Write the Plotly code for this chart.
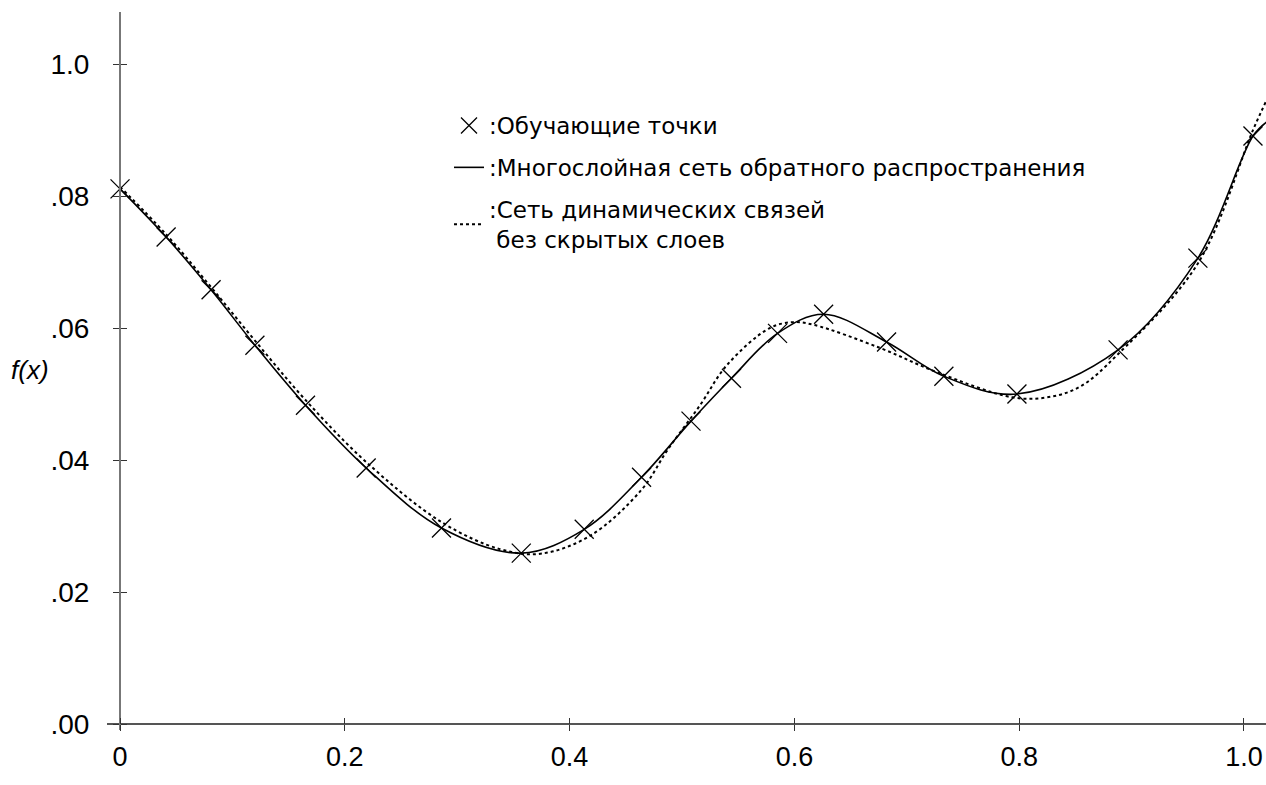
import plotly.graph_objects as go

# Training points
train_x = [0.0, 0.041, 0.081, 0.120, 0.165, 0.219, 0.286, 0.357, 0.413, 0.464,
           0.508, 0.544, 0.585, 0.626, 0.682, 0.733, 0.798, 0.888, 0.959, 1.008]
train_y = [0.0811, 0.0738, 0.0658, 0.0574, 0.0483, 0.0388, 0.0297, 0.0259, 0.0295, 0.0374,
           0.0459, 0.0524, 0.0592, 0.0621, 0.0579, 0.0527, 0.0500, 0.0567, 0.0706, 0.0891]

# Multilayer back-propagation network output (solid)
bp_x = [0.0, 0.041, 0.081, 0.120, 0.165, 0.219, 0.286, 0.357, 0.413, 0.464,
        0.508, 0.544, 0.585, 0.626, 0.682, 0.733, 0.798, 0.888, 0.959, 1.008, 1.020]
bp_y = [0.0811, 0.0738, 0.0658, 0.0574, 0.0483, 0.0388, 0.0297, 0.0259, 0.0295, 0.0374,
        0.0459, 0.0524, 0.0592, 0.0621, 0.0579, 0.0527, 0.0500, 0.0567, 0.0706, 0.0891, 0.0912]

# Dynamic-connection network without hidden layers (dotted)
dyn_x = [0.0, 0.041, 0.081, 0.121, 0.165, 0.219, 0.286, 0.338, 0.374, 0.418, 0.464,
         0.487, 0.516, 0.540, 0.578, 0.599, 0.617, 0.676, 0.727, 0.794, 0.825, 0.854,
         0.887, 0.959, 1.008, 1.020]
dyn_y = [0.0814, 0.0742, 0.0662, 0.0579, 0.0491, 0.0397, 0.0306, 0.0265, 0.0258, 0.0285, 0.0355,
         0.0415, 0.0483, 0.0544, 0.0600, 0.0609, 0.0605, 0.0570, 0.0533, 0.0495, 0.0495, 0.0511,
         0.0559, 0.0698, 0.0900, 0.0945]

x_tickvals = [0, 0.2, 0.4, 0.6, 0.8, 1.0]
x_ticktext = ["0", "0.2", "0.4", "0.6", "0.8", "1.0"]
y_tickvals = [0, 0.02, 0.04, 0.06, 0.08, 0.10]
y_ticktext = [".00", ".02", ".04", ".06", ".08", "1.0"]

legend_names = [":Обучающие точки",
                ":Многослойная сеть обратного распространения",
                ":Сеть динамических связей<br> без скрытых слоев"]

W, H = 1266, 785
ml, mr, mt = 107, 0, 12
plot_bottom = 730
mb = H - plot_bottom
xr = [-0.0116, 1.0196]
yr = [-0.00091, 0.1079]
pw = W - ml - mr
ph = H - mt - mb
xpos = (0 - xr[0]) / (xr[1] - xr[0])   # paper x of y-axis
ypos = (0 - yr[0]) / (yr[1] - yr[0])   # paper y of x-axis


def px2paper_x(px):
    return (px - ml) / pw


def px2paper_y(py):
    return (plot_bottom - py) / ph


fig = go.Figure()
fig.add_trace(go.Scatter(x=train_x, y=train_y, mode="markers", name=legend_names[0],
                         marker=dict(symbol="x-thin", size=19, line=dict(color="black", width=1.3)),
                         legendgroup="a"))
fig.add_trace(go.Scatter(x=bp_x, y=bp_y, mode="lines", name=legend_names[1],
                         line=dict(color="black", width=1.6, shape="spline", smoothing=1.0),
                         legendgroup="b"))
fig.add_trace(go.Scatter(x=dyn_x, y=dyn_y, mode="lines", name=legend_names[2],
                         line=dict(color="black", width=2, dash="dot", shape="spline", smoothing=1.0),
                         legendgroup="c"))
# dummy trace to create the overlay axes for crossing ticks
fig.add_trace(go.Scatter(x=[], y=[], xaxis="x2", yaxis="y2", showlegend=False, hoverinfo="skip"))

axis_common = dict(showgrid=False, zeroline=False, automargin=False)
fig.update_layout(
    width=W, height=H,
    margin=dict(l=ml, r=mr, t=mt, b=mb),
    plot_bgcolor="white", paper_bgcolor="white",
    xaxis=dict(range=xr, anchor="free", position=ypos, showline=True, linecolor="#555",
               linewidth=1.5, ticks="outside", ticklen=6, tickcolor="#333", tickwidth=1,
               tickvals=x_tickvals, ticktext=x_ticktext,
               tickfont=dict(family="Liberation Sans", size=27, color="black"),
               ticklabelstandoff=3, **axis_common),
    yaxis=dict(range=yr, anchor="free", position=xpos, showline=True, linecolor="#777",
               linewidth=2, ticks="outside", ticklen=6, tickcolor="#333", tickwidth=1,
               tickvals=y_tickvals, ticktext=y_ticktext,
               tickfont=dict(family="Liberation Sans", size=28, color="black"),
               ticklabelstandoff=18, **axis_common),
    xaxis2=dict(range=xr, overlaying="x", matches="x", anchor="free", position=ypos,
                showline=False, ticks="inside", ticklen=6, tickcolor="#333", tickwidth=1,
                tickvals=x_tickvals, showticklabels=False, **axis_common),
    yaxis2=dict(range=yr, overlaying="y", matches="y", anchor="free", position=xpos,
                showline=False, ticks="inside", ticklen=6, tickcolor="#333", tickwidth=1,
                tickvals=y_tickvals, showticklabels=False, **axis_common),
    legend=dict(x=px2paper_x(449), y=px2paper_y(104), xanchor="left", yanchor="top",
                font=dict(family="DejaVu Sans", size=23, color="black"),
                bgcolor="rgba(0,0,0,0)", tracegroupgap=9, itemwidth=30),
    showlegend=True,
    annotations=[dict(text="<i>f(x)</i>", xref="paper", yref="paper",
                      x=px2paper_x(30), y=px2paper_y(370), xanchor="center", yanchor="middle",
                      showarrow=False, font=dict(family="Liberation Sans", size=26, color="black"))],
)

fig.write_html("out.html", config={"displayModeBar": False},
               post_script="document.body.style.margin='0px';document.body.style.overflow='hidden';")
